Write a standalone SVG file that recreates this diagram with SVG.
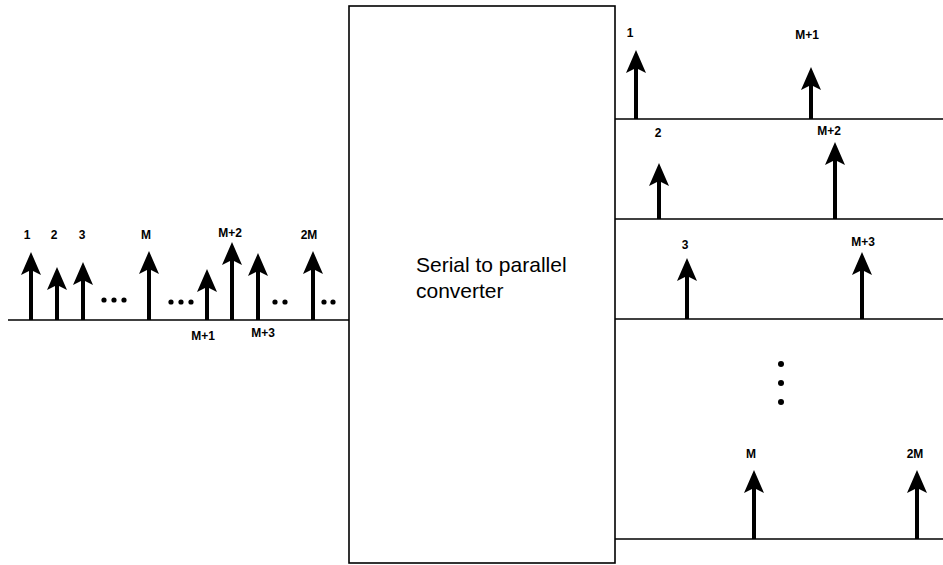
<svg xmlns="http://www.w3.org/2000/svg" xmlns:xlink="http://www.w3.org/1999/xlink" width="943" height="565" viewBox="0 0 943 565">
<style>
.ln{stroke:#000;stroke-width:1.6;fill:none}
.stem{stroke:#000;stroke-width:4;fill:none}
.lbl{font-family:"Liberation Sans",Arial,sans-serif;font-weight:bold;font-size:12px;fill:#000;text-anchor:middle}
.main{font-family:"Liberation Sans",Arial,sans-serif;font-size:21px;fill:#000}
.dot{fill:#000}
</style>
<defs>
<path id="head" d="M0,0 L-10,23 L0,18 L10,23 Z" fill="#000"/>
</defs>
<rect width="943" height="565" fill="#fff"/>
<g id="connectors">
<line class="ln" x1="8" y1="320" x2="349" y2="320"/>
<line class="ln" x1="615" y1="119" x2="943" y2="119"/>
<line class="ln" x1="615" y1="219" x2="943" y2="219"/>
<line class="ln" x1="615" y1="319" x2="943" y2="319"/>
<line class="ln" x1="615" y1="539" x2="943" y2="539"/>
</g>
<g id="converter">
<rect class="ln" x="349" y="6" width="266" height="557" stroke-width="2"/>
<text class="main" x="416" y="272">Serial to parallel</text>
<text class="main" x="416" y="298">converter</text>
</g>
<g id="serial-input">
<line class="stem" x1="31" y1="320" x2="31" y2="262"/><use xlink:href="#head" x="31" y="252"/>
<line class="stem" x1="57" y1="320" x2="57" y2="277"/><use xlink:href="#head" x="57" y="267"/>
<line class="stem" x1="83" y1="320" x2="83" y2="272"/><use xlink:href="#head" x="83" y="262"/>
<line class="stem" x1="149" y1="320" x2="149" y2="261"/><use xlink:href="#head" x="149" y="251"/>
<line class="stem" x1="207" y1="320" x2="207" y2="279"/><use xlink:href="#head" x="207" y="269"/>
<line class="stem" x1="232" y1="320" x2="232" y2="252"/><use xlink:href="#head" x="232" y="242"/>
<line class="stem" x1="258" y1="320" x2="258" y2="263"/><use xlink:href="#head" x="258" y="253"/>
<line class="stem" x1="313" y1="320" x2="313" y2="261"/><use xlink:href="#head" x="313" y="251"/>
<text class="lbl" x="27" y="239">1</text>
<text class="lbl" x="54" y="239">2</text>
<text class="lbl" x="82" y="239">3</text>
<text class="lbl" x="146" y="239">M</text>
<text class="lbl" x="230" y="237">M+2</text>
<text class="lbl" x="309" y="239">2M</text>
<text class="lbl" x="203" y="340">M+1</text>
<text class="lbl" x="263" y="337">M+3</text>
<circle class="dot" cx="104" cy="300" r="2.6"/><circle class="dot" cx="114" cy="300" r="2.6"/><circle class="dot" cx="124" cy="300" r="2.6"/>
<circle class="dot" cx="171" cy="302" r="2.6"/><circle class="dot" cx="181" cy="302" r="2.6"/><circle class="dot" cx="191" cy="302" r="2.6"/>
<circle class="dot" cx="275" cy="302" r="2.6"/><circle class="dot" cx="285" cy="302" r="2.6"/>
<circle class="dot" cx="324" cy="302" r="2.6"/><circle class="dot" cx="333" cy="302" r="2.6"/>
</g>
<g id="output-1">
<line class="stem" x1="636" y1="119" x2="636" y2="60"/><use xlink:href="#head" x="636" y="50"/>
<line class="stem" x1="811" y1="119" x2="811" y2="77"/><use xlink:href="#head" x="811" y="67"/>
<text class="lbl" x="630" y="37">1</text>
<text class="lbl" x="807" y="39">M+1</text>
</g>
<g id="output-2">
<line class="stem" x1="659" y1="219" x2="659" y2="173"/><use xlink:href="#head" x="659" y="163"/>
<line class="stem" x1="835" y1="219" x2="835" y2="152"/><use xlink:href="#head" x="835" y="142"/>
<text class="lbl" x="658" y="137">2</text>
<text class="lbl" x="829" y="135">M+2</text>
</g>
<g id="output-3">
<line class="stem" x1="687" y1="319" x2="687" y2="268"/><use xlink:href="#head" x="687" y="258"/>
<line class="stem" x1="862" y1="319" x2="862" y2="262"/><use xlink:href="#head" x="862" y="252"/>
<text class="lbl" x="685" y="249">3</text>
<text class="lbl" x="863" y="246">M+3</text>
</g>
<g id="output-ellipsis">
<circle class="dot" cx="781" cy="364" r="3"/><circle class="dot" cx="781" cy="383" r="3"/><circle class="dot" cx="781" cy="402" r="3"/>
</g>
<g id="output-M">
<line class="stem" x1="754" y1="539" x2="754" y2="480"/><use xlink:href="#head" x="754" y="470"/>
<line class="stem" x1="917" y1="539" x2="917" y2="480"/><use xlink:href="#head" x="917" y="470"/>
<text class="lbl" x="751" y="458">M</text>
<text class="lbl" x="915" y="458">2M</text>
</g>
</svg>
